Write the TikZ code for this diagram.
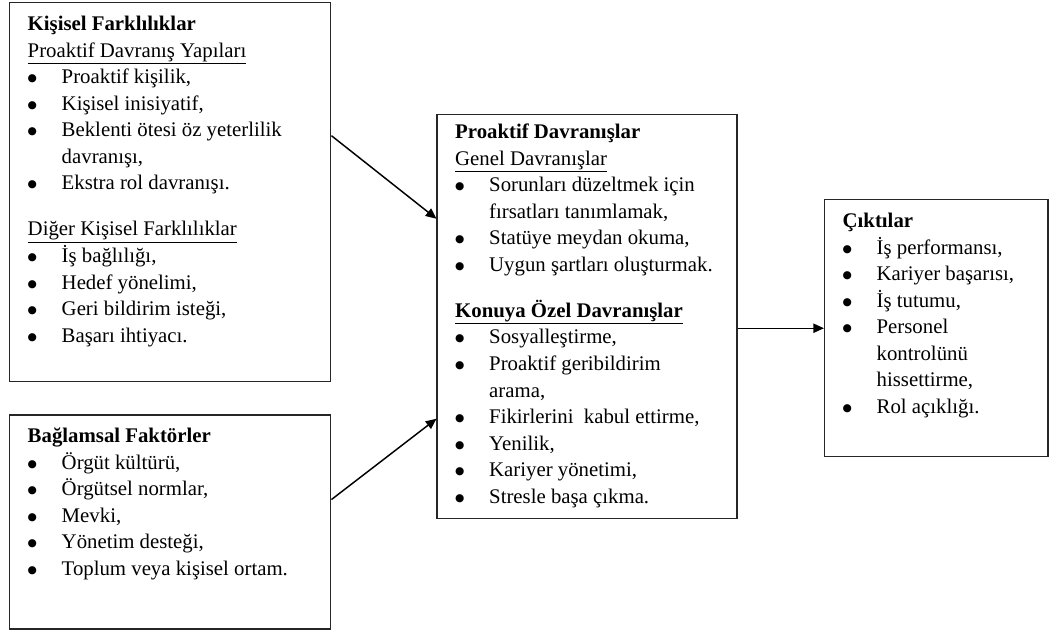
\documentclass[tikz,border=0pt]{standalone}
\usepackage{fontspec}
\setmainfont{Liberation Serif}
\newfontfamily\isaret{DejaVu Sans}
\usepackage{tikz}
\usetikzlibrary{positioning,arrows.meta}

\newcommand{\madde}{\par\noindent\hangindent=25.5pt\hangafter=1\makebox[25.5pt][l]{\raisebox{1.5pt}{\isaret\fontsize{8}{8}\selectfont ●}}}
\newcommand{\baslik}[2][20.5pt]{\noindent\rule{0pt}{#1}\textbf{#2}\par}
\newcommand{\bosluk}{\par\vspace{14.6pt}}

\begin{document}
\begin{tikzpicture}[>={Triangle[length=8pt,width=7pt]},every node/.style={font=\fontsize{15.6}{19.9}\selectfont}]
\tikzstyle{kutu}=[draw=black!85,line width=1.1pt,inner xsep=13.5pt,inner ysep=0pt,anchor=north west]
\useasboundingbox (0,0) rectangle (787.5pt,-471.75pt);

\node[kutu] (kisisel) at (6.75pt,-1.5pt) {\begin{minipage}[t][284.25pt][t]{213.75pt}\raggedright
\baslik[21pt]{Kişisel Farklılıklar}
\underline{Proaktif Davranış Yapıları}
\madde Proaktif kişilik,
\madde Kişisel inisiyatif,
\madde Beklenti ötesi öz yeterlilik\newline davranışı,
\madde Ekstra rol davranışı.
\bosluk
\noindent\underline{Diğer Kişisel Farklılıklar}
\madde İş bağlılığı,
\madde Hedef yönelimi,
\madde Geri bildirim isteği,
\madde Başarı ihtiyacı.
\end{minipage}};

\node[kutu,below=24pt of kisisel.south west,anchor=north west] (baglamsal) {\begin{minipage}[t][160.5pt][t]{213.75pt}\raggedright
\baslik{Bağlamsal Faktörler}
\madde Örgüt kültürü,
\madde Örgütsel normlar,
\madde Mevki,
\madde Yönetim desteği,
\madde Toplum veya kişisel ortam.
\end{minipage}};

\node[kutu,below right=84pt and 78.75pt of kisisel.north east] (proaktif) {\begin{minipage}[t][303pt][t]{198pt}\raggedright
\baslik[18pt]{Proaktif Davranışlar}
\underline{Genel Davranışlar}
\madde Sorunları düzeltmek için\newline fırsatları tanımlamak,
\madde Statüye meydan okuma,
\madde Uygun şartları oluşturmak.
\bosluk
\noindent\underline{\textbf{Konuya Özel Davranışlar}}
\madde Sosyalleştirme,
\madde Proaktif geribildirim\newline arama,
\madde Fikirlerini \ kabul ettirme,
\madde Yenilik,
\madde Kariyer yönetimi,
\madde Stresle başa çıkma.
\end{minipage}};

\node[kutu,below right=63.75pt and 64.5pt of proaktif.north east] (cikti) {\begin{minipage}[t][192.75pt][t]{140.5pt}\raggedright
\baslik[21pt]{Çıktılar}
\madde İş performansı,
\madde Kariyer başarısı,
\madde İş tutumu,
\madde Personel\newline kontrolünü\newline hissettirme,
\madde Rol açıklığı.
\end{minipage}};

\draw[->,line width=1.1pt] ([yshift=42.4pt]kisisel.east) -- ([yshift=73.5pt]proaktif.west);
\draw[->,line width=1.1pt] ([yshift=17pt]baglamsal.east) -- ([yshift=-76.5pt]proaktif.west);
\draw[->,line width=1.1pt] (proaktif.east |- cikti.west) -- (cikti.west);
\end{tikzpicture}
\end{document}
